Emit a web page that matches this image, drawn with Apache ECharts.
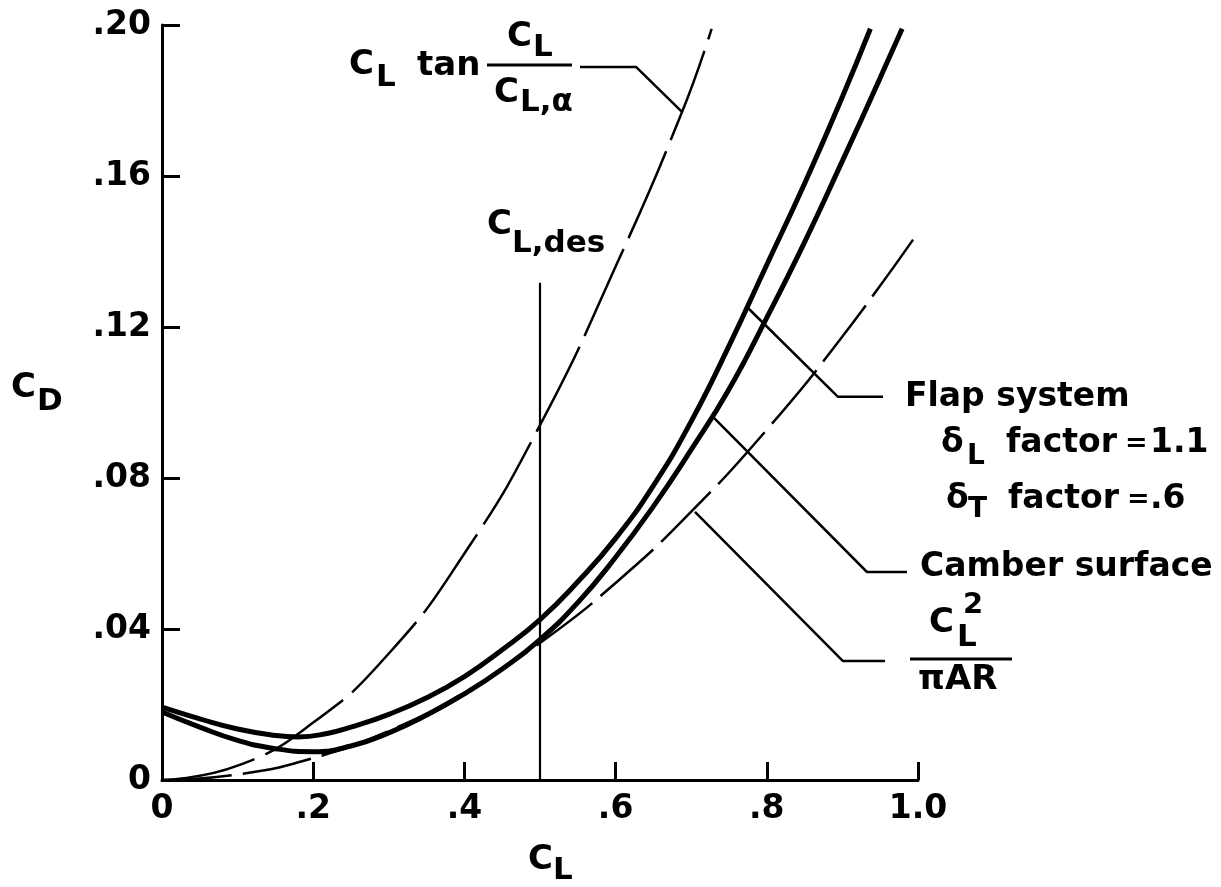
<!DOCTYPE html>
<html><head><meta charset="utf-8">
<script src="https://cdn.jsdelivr.net/npm/echarts@6/dist/echarts.min.js"></script>
<style>html,body{margin:0;padding:0;background:#fff}#c{width:1221px;height:887px}</style>
</head><body><div id="c"></div>
<script>
// ---- data ----
const xTickLabels = ['0', '.2', '.4', '.6', '.8', '1.0'];
const yTickLabels = ['0', '.04', '.08', '.12', '.16', '.20'];

// C_L tan(C_L / C_L,alpha)  (thin long-dashed)
const clTan = [[0,0],[0.1,0.0038],[0.2,0.0152],[0.3,0.0335],[0.4,0.060],[0.5,0.094],[0.6,0.136],[0.688,0.177],[0.727,0.199]];
// C_L^2 / (pi AR)  (thin dashed)
const clSquared = [[0,0],[0.1,0.00145],[0.2,0.0058],[0.3,0.013],[0.4,0.0232],[0.5,0.0363],[0.6,0.0522],[0.7,0.0711],[0.8,0.0928],[0.9,0.1175],[1.0,0.145]];
// Camber surface (thick)
const camber = [[0,0.0180],[0.05,0.0140],[0.1,0.0105],[0.15,0.0083],[0.2,0.0075],[0.25,0.0090],[0.3,0.0125],[0.35,0.0172],[0.4,0.0228],[0.45,0.0294],[0.5,0.0372],[0.55,0.0470],[0.6,0.0590],[0.65,0.0725],[0.7,0.0875],[0.75,0.1035],[0.8,0.1225],[0.85,0.1425],[0.9,0.1640],[0.95,0.1860],[0.979,0.1990]];
// Flap system (thick)
const flap = [[0,0.0193],[0.05,0.0162],[0.1,0.0135],[0.15,0.0118],[0.18,0.0114],[0.22,0.0124],[0.25,0.0140],[0.3,0.0174],[0.35,0.0218],[0.4,0.0274],[0.45,0.0345],[0.5,0.0425],[0.55,0.0525],[0.6,0.0640],[0.65,0.0780],[0.7,0.0950],[0.75,0.1150],[0.8,0.1365],[0.85,0.158],[0.9,0.181],[0.937,0.199]];
// Design lift coefficient marker
const clDesValue = 0.5;
const clDesTop = 0.1317;

// ---- annotation leader lines (data units) ----
const leaders = [
  [[0.5529,0.1889],[0.627,0.1889],[0.6878,0.1770]],
  [[0.7738,0.1253],[0.8942,0.1015],[0.9537,0.1015]],
  [[0.7288,0.0962],[0.9325,0.0551],[0.9854,0.0551]],
  [[0.705,0.0710],[0.9008,0.0315],[0.9563,0.0315]]
];

const FF = '"DejaVu Sans", sans-serif';
const chart = echarts.init(document.getElementById('c'), null, {renderer: 'canvas'});

function tx(x, y, text, size) {
  return {type: 'text', x: x, y: y, silent: true,
    style: {text: text, fill: '#000', fontSize: size, fontWeight: 'bold', fontFamily: FF,
      align: 'left', verticalAlign: 'middle'}};
}
function ln(x1, y1, x2, y2, w) {
  return {type: 'line', silent: true, shape: {x1: x1, y1: y1, x2: x2, y2: y2},
    style: {stroke: '#000', lineWidth: w}};
}

const series = [
  {type: 'line', data: clTan, smooth: true, showSymbol: false, silent: true,
   lineStyle: {color: '#000', width: 2.5, type: [95, 12]}},
  {type: 'line', data: clSquared, smooth: true, showSymbol: false, silent: true,
   lineStyle: {color: '#000', width: 2.5, type: [70, 11]}},
  {type: 'line', data: camber, smooth: true, showSymbol: false, silent: true,
   lineStyle: {color: '#000', width: 5}},
  {type: 'line', data: flap, smooth: true, showSymbol: false, silent: true,
   lineStyle: {color: '#000', width: 5}},
  {type: 'line', data: [[clDesValue, 0], [clDesValue, clDesTop]], showSymbol: false, silent: true,
   lineStyle: {color: '#000', width: 2.2}}
];
leaders.forEach(function (l) {
  series.push({type: 'line', data: l, showSymbol: false, silent: true,
    lineStyle: {color: '#000', width: 2.5}});
});

const M = 34, S = 31, B = 33;
const graphics = [
  // C_D axis name
  tx(11, 388, 'C', M), tx(37, 402, 'D', S),
  // C_L axis name
  tx(528, 860, 'C', M), tx(553, 871, 'L', S),
  // C_L tan C_L / C_L,alpha
  tx(349, 65, 'C', M), tx(376, 78, 'L', S), tx(417, 66, 'tan', M),
  tx(507, 37, 'C', M), tx(533, 48, 'L', S),
  ln(487, 65, 572, 65, 3),
  tx(494, 93, 'C', M), tx(520, 103, 'L,α', S),
  // C_L,des
  tx(487, 225, 'C', M), tx(512, 244, 'L,des', S),
  // Flap system
  tx(905, 397, 'Flap system', B),
  tx(941, 443, 'δ', B), tx(967, 457, 'L', 28),
  tx(1006, 443, 'factor', B), tx(1125, 444, '=', 27), tx(1150, 443, '1.1', B),
  tx(946, 499, 'δ', B), tx(968, 510, 'T', 28),
  tx(1008, 499, 'factor', B), tx(1127, 500, '=', 27), tx(1150, 499, '.6', B),
  // Camber surface
  tx(920, 567, 'Camber surface', B),
  // C_L^2 / pi AR
  tx(929, 623, 'C', M), tx(957, 638, 'L', S), tx(963, 605, '2', 29),
  ln(910, 659, 1012, 659, 3),
  tx(918, 680, 'πAR', M)
];

chart.setOption({
  backgroundColor: '#fff',
  animation: false,
  grid: {left: 162, top: 25, width: 756, height: 755, containLabel: false},
  xAxis: {
    type: 'value', min: 0, max: 1, interval: 0.2,
    axisLine: {show: true, onZero: false, lineStyle: {color: '#000', width: 3}},
    axisTick: {show: true, inside: true, length: 18, lineStyle: {color: '#000', width: 3}},
    splitLine: {show: false},
    axisLabel: {color: '#000', fontSize: 33, fontWeight: 'bold', fontFamily: FF, margin: 13,
      formatter: function (v) { return xTickLabels[Math.round(v / 0.2)]; }}
  },
  yAxis: {
    type: 'value', min: 0, max: 0.2, interval: 0.04,
    axisLine: {show: true, onZero: false, lineStyle: {color: '#000', width: 3}},
    axisTick: {show: true, inside: true, length: 18, lineStyle: {color: '#000', width: 3}},
    splitLine: {show: false},
    axisLabel: {color: '#000', fontSize: 33, fontWeight: 'bold', fontFamily: FF, margin: 11,
      formatter: function (v) { return yTickLabels[Math.round(v / 0.04)]; }}
  },
  series: series,
  graphic: graphics
});
</script></body></html>
